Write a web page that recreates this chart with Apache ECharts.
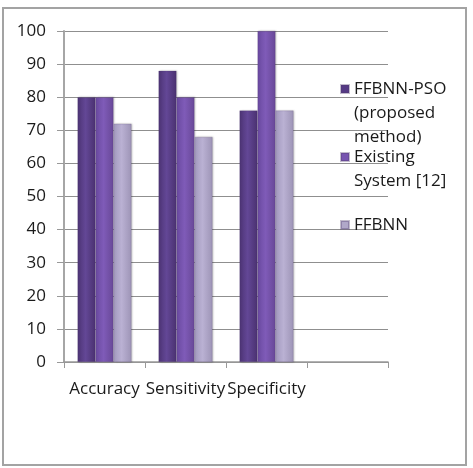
<!DOCTYPE html>
<html>
<head>
<meta charset="utf-8">
<script src="https://cdn.jsdelivr.net/npm/echarts@6/dist/echarts.min.js"></script>
<style>
  html, body { margin: 0; padding: 0; background: #fff; }
  #chart { width: 473px; height: 468px; }
</style>
</head>
<body>
<div id="chart"></div>
<script>
  const categories = ["Accuracy", "Sensitivity", "Specificity"];
  const seriesNames = ["FFBNN-PSO\n(proposed\nmethod)", "Existing\nSystem [12]", "FFBNN"];
  const psoValues = [80, 88, 76];
  const existingValues = [80, 80, 100];
  const ffbnnValues = [72, 68, 76];
  const yTicks = [0, 10, 20, 30, 40, 50, 60, 70, 80, 90, 100];

  const font = "Open Sans";
  const fontSize = 17;
  const lineH = 24;

  // edge / centre / edge shading, like the old office 3D bars
  function shade(edge, mid, edge2) {
    return new echarts.graphic.LinearGradient(0, 0, 1, 0, [
      { offset: 0, color: edge },
      { offset: 0.45, color: mid },
      { offset: 1, color: edge2 },
    ]);
  }
  const colors = [
    shade("#4d3475", "#634796", "#4a3170"),
    shade("#6a4aa0", "#7f5bb8", "#684897"),
    shade("#a39abf", "#bab1d3", "#9d94b6"),
  ];
  const iconColors = ["#553a85", "#7754b0", "#b0a7c9"];

  // one legend per entry; the icon path gets an empty move-to at the bottom
  // so the square lines up with the first text line instead of the middle
  const legendTops = [89, 157, 225];
  const legends = seriesNames.map(function (name, i) {
    const n = name.split("\n").length;
    const h = 8 + (n - 1) * lineH;
    return {
      data: [{ name: name, itemStyle: { color: iconColors[i] } }],
      left: 340,
      top: legendTops[i] - lineH / 2,
      padding: 0,
      itemWidth: 8,
      itemHeight: h,
      icon: "path://M0,0h8v8h-8z M8," + h,
      symbolKeepAspect: false,
      selectedMode: false,
      textStyle: {
        fontFamily: font,
        fontSize: fontSize,
        color: "#1a1a1a",
        lineHeight: lineH,
      },
    };
  });

  const chart = echarts.init(document.getElementById("chart"));
  const valueLists = [psoValues, existingValues, ffbnnValues];
  const option = {
    animation: false,
    backgroundColor: "#fff",
    graphic: [
      {
        type: "rect",
        shape: { x: 3, y: 8, width: 463, height: 457 },
        style: { fill: "none", stroke: "#a3a3a3", lineWidth: 2 },
        silent: true,
      },
    ],
    grid: { left: 64, right: 85, top: 31, bottom: 106 },
    legend: legends,
    xAxis: {
      type: "category",
      data: categories.concat([""]),
      axisLine: { lineStyle: { color: "#999", width: 1.5 } },
      axisTick: { show: true, length: 6, lineStyle: { color: "#999" } },
      axisLabel: {
        fontFamily: font,
        fontSize: fontSize,
        color: "#1a1a1a",
        margin: 19,
        interval: 0,
      },
    },
    yAxis: {
      type: "value",
      min: yTicks[0],
      max: yTicks[yTicks.length - 1],
      interval: 10,
      axisLine: { show: true, lineStyle: { color: "#a6a6a6", width: 2 } },
      axisTick: { show: true, length: 7, lineStyle: { color: "#999" } },
      axisLabel: {
        fontFamily: font,
        fontSize: fontSize,
        color: "#1a1a1a",
        margin: 18,
      },
      splitLine: { lineStyle: { color: "#8f8f8f", width: 1.2 } },
    },
    series: seriesNames.map(function (name, i) {
      return {
        name: name,
        type: "bar",
        data: valueLists[i],
        barWidth: 18,
        barGap: "0%",
        itemStyle: {
          color: colors[i],
          borderColor: "rgba(80,60,110,0.35)",
          borderWidth: 0.5,
          shadowColor: "rgba(0,0,0,0.25)",
          shadowBlur: 2,
          shadowOffsetX: 1,
        },
      };
    }),
  };
  chart.setOption(option);

  window.addEventListener("resize", function () {
    chart.resize();
  });
</script>
</body>
</html>
